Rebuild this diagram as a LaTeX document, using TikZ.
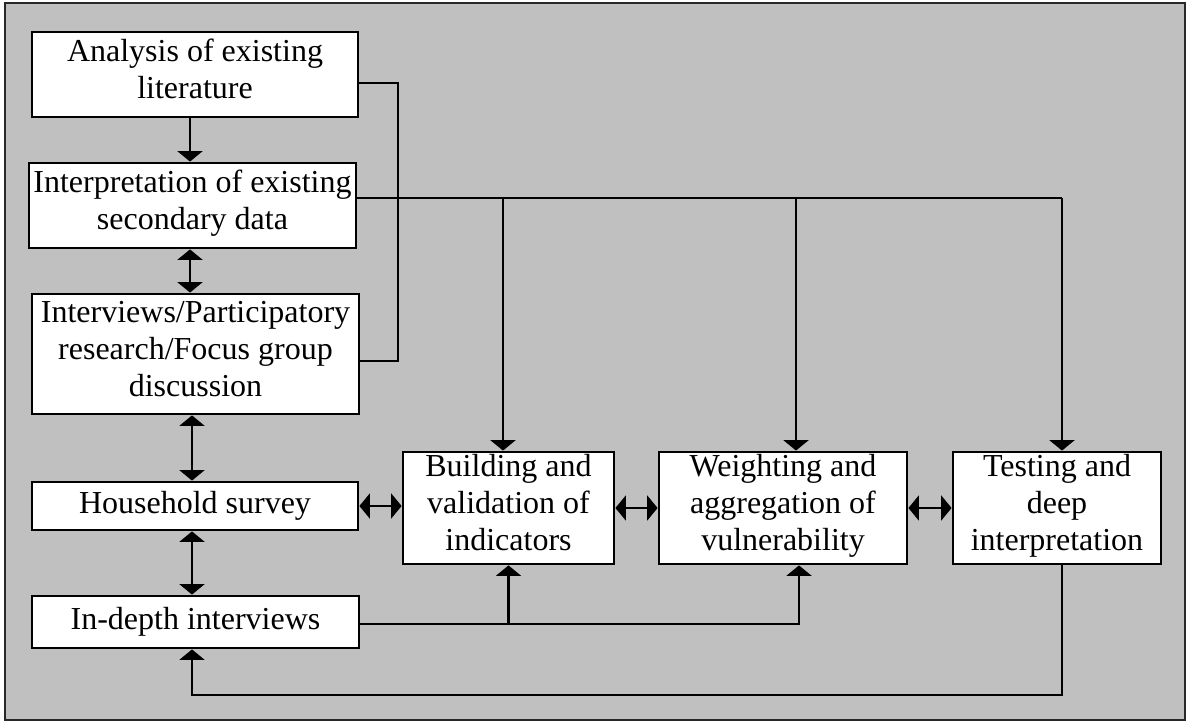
\documentclass[tikz,border=0pt]{standalone}
\usepackage{fontspec}
\setmainfont{Liberation Serif}
\usetikzlibrary{arrows.meta}
\definecolor{bg}{RGB}{192,192,192}
\definecolor{frame}{RGB}{40,40,40}
\begin{document}
\begin{tikzpicture}[x=1pt,y=-1pt,
  basebox/.style={draw=black, fill=white, line width=2.8pt, inner sep=0pt, align=center,
              font=\fontsize{32}{37}\selectfont},
  box/.style={basebox, execute at begin node=\strut, execute at end node=\strut},
  boxlow/.style={basebox, execute at begin node={\rule{0pt}{32pt}\strut}, execute at end node=\strut},
  conn/.style={line width=2.3pt, draw=black},
  arr/.style={conn, -{Triangle[width=25pt,length=10.5pt]}},
  darr/.style={conn, {Triangle[width=25pt,length=10.5pt]}-{Triangle[width=25pt,length=10.5pt]}}]
\useasboundingbox (0,0) rectangle (1188,722);
\fill[white] (0,0) rectangle (1188,722);
\draw[fill=bg, draw=frame, line width=1.5pt] (5,3) rectangle (1185,720);

% boxes
\node[box, minimum width=326pt, minimum height=85pt]  (ana) at (195,74.5)   {Analysis of existing\\literature};
\node[box, minimum width=327pt, minimum height=85pt]  (int) at (192.5,205.5) {Interpretation of existing\\secondary data};
\node[box, minimum width=327pt, minimum height=120pt] (iv)  at (195.5,354)  {Interviews/Participatory\\research/Focus group\\discussion};
\node[box, minimum width=326pt, minimum height=48pt]  (hh)  at (195,506)    {Household survey};
\node[box, minimum width=327pt, minimum height=52pt]  (idi) at (195.5,622)  {In-depth interviews};
\node[boxlow, minimum width=211pt, minimum height=112pt] (bld) at (508.5,508)  {Building and\\validation of\\indicators};
\node[boxlow, minimum width=248pt, minimum height=112pt] (wgt) at (783,508)    {Weighting and\\aggregation of\\vulnerability};
\node[boxlow, minimum width=208pt, minimum height=112pt] (tst) at (1057,508)   {Testing and\\deep\\interpretation};

% left column arrows
\coordinate (c1) at ([xshift=-5pt]ana.south);
\draw[arr] (c1) -- (c1 |- int.north);
\coordinate (c2) at ([xshift=-2.5pt]int.south);
\draw[darr] (c2) -- (c2 |- iv.north);
\coordinate (c3) at ([xshift=-3.5pt]iv.south);
\draw[darr] (c3) -- (c3 |- hh.north);
\coordinate (c4) at ([xshift=-3pt]hh.south);
\draw[darr] (c4) -- (c4 |- idi.north);

% horizontal double arrows
\draw[darr] (hh.east) -- (hh.east -| bld.west);
\draw[darr] (bld.east) -- (wgt.west);
\draw[darr] (wgt.east) -- (wgt.east -| tst.west);

% bracket from analysis to interviews
\coordinate (a1) at ([yshift=-8.5pt]ana.east);
\coordinate (a2) at ([yshift=-7pt]iv.east);
\coordinate (bx) at (398,0);
\draw[conn] (a1) -| (bx |- a2) -- (a2);

% top distribution line
\coordinate (t0) at ([yshift=7.5pt]int.east);
\coordinate (tb) at ([xshift=-5.5pt]bld.north);
\coordinate (tw) at ([xshift=13pt]wgt.north);
\coordinate (tt) at ([xshift=5pt]tst.north);
\draw[conn] (t0) -- (tt |- t0);
\draw[arr] (tt |- t0) -- (tt);
\draw[arr] (tb |- t0) -- (tb);
\draw[arr] (tw |- t0) -- (tw);

% in-depth to building / weighting
\coordinate (d1) at ([yshift=-2pt]idi.east);
\coordinate (dw) at ([xshift=16pt]wgt.south);
\draw[arr] (d1) -| (dw);
\draw[arr] (d1 -| bld.south) -- (bld.south);

% feedback loop bottom
\coordinate (bot) at (0,695);
\coordinate (ts) at ([xshift=5pt]tst.south);
\coordinate (is) at ([xshift=-3.5pt]idi.south);
\draw[arr] (ts) |- (is |- bot) -- (is);
\end{tikzpicture}
\end{document}
